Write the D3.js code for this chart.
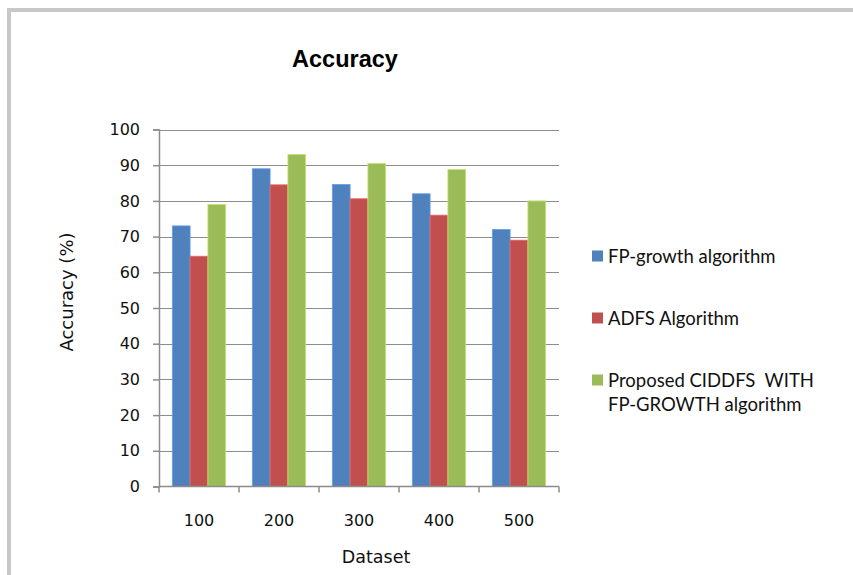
<!DOCTYPE html>
<html>
<head>
<meta charset="utf-8">
<script src="https://cdn.jsdelivr.net/npm/d3@7"></script>
<style>
  html, body { margin: 0; padding: 0; background: #fff; }
  svg { display: block; }
</style>
</head>
<body>
<svg id="chart" width="853" height="575"></svg>
<script>
// Dataset sizes on the x axis
const categories = ["100", "200", "300", "400", "500"];
// Series names, in legend order
const seriesNames = ["FP-growth algorithm", "ADFS Algorithm", "Proposed CIDDFS  WITH FP-GROWTH algorithm"];
// Accuracy (%) per dataset for each algorithm
const fpGrowth = [73, 89, 84.6, 82, 72];
const adfs = [64.5, 84.5, 80.6, 76, 69];
const proposed = [79, 93, 90.5, 88.8, 80];
// Y axis ticks
const yTicks = [0, 10, 20, 30, 40, 50, 60, 70, 80, 90, 100];

const colors = ["#4F81BD", "#C0504D", "#9BBB59"];
const seriesValues = [fpGrowth, adfs, proposed];

const svg = d3.select("#chart");

// outer frame
svg.append("rect")
  .attr("x", 9).attr("y", 10)
  .attr("width", 900).attr("height", 700)
  .attr("fill", "none")
  .attr("stroke", "#c8c8c8")
  .attr("stroke-width", 4);

const plotLeft = 159, plotRight = 559, plotTop = 129.5, plotBottom = 486.5;

const x0 = d3.scaleBand().domain(categories).range([plotLeft, plotRight]).padding(0);
const x1 = d3.scaleBand().domain(d3.range(3))
  .range([x0.bandwidth() / 6, x0.bandwidth() * 5 / 6]).padding(0);
const y = d3.scaleLinear().domain([0, 100]).range([plotBottom, plotTop]);

// gridlines
svg.append("g")
  .selectAll("line")
  .data(yTicks.filter(d => d > 0))
  .join("line")
  .attr("x1", plotLeft).attr("x2", plotRight)
  .attr("y1", d => Math.round(y(d)) + 0.5).attr("y2", d => Math.round(y(d)) + 0.5)
  .attr("stroke", "#8c8c8c").attr("stroke-width", 1.2);

// bars
const groups = svg.append("g")
  .selectAll("g")
  .data(categories)
  .join("g")
  .attr("transform", d => `translate(${x0(d)},0)`);

groups.selectAll("rect")
  .data((d, i) => seriesValues.map((vals, s) => ({ s, v: vals[i] })))
  .join("rect")
  .attr("x", d => x1(d.s))
  .attr("width", x1.bandwidth())
  .attr("y", d => y(d.v))
  .attr("height", d => plotBottom - y(d.v))
  .attr("fill", d => colors[d.s])
  .attr("stroke", d => d3.color(colors[d.s]).brighter(0.6))
  .attr("stroke-width", 0.8);

const labelFont = "DejaVu Sans, Verdana, sans-serif";

// y axis
const yAxis = d3.axisLeft(y).tickValues(yTicks).tickSize(6).tickPadding(13);
const gy = svg.append("g").attr("transform", `translate(${plotLeft},0)`).call(yAxis);
gy.select(".domain").attr("stroke", "#8c8c8c").attr("stroke-width", 1.5);
gy.selectAll(".tick line").attr("stroke", "#8c8c8c").attr("stroke-width", 1.5);
gy.selectAll(".tick text")
  .attr("font-family", labelFont)
  .attr("font-size", 16)
  .attr("fill", "#111");

// x axis: ticks at band boundaries
const xAxisG = svg.append("g");
xAxisG.append("line")
  .attr("x1", plotLeft).attr("x2", plotRight)
  .attr("y1", plotBottom).attr("y2", plotBottom)
  .attr("stroke", "#8c8c8c").attr("stroke-width", 1.5);
xAxisG.selectAll(".xt")
  .data(categories.concat([null]))
  .join("line")
  .attr("class", "xt")
  .attr("x1", (d, i) => plotLeft + i * x0.step())
  .attr("x2", (d, i) => plotLeft + i * x0.step())
  .attr("y1", plotBottom).attr("y2", plotBottom + 6)
  .attr("stroke", "#8c8c8c").attr("stroke-width", 1.5);
xAxisG.selectAll(".xl")
  .data(categories)
  .join("text")
  .attr("class", "xl")
  .attr("x", d => x0(d) + x0.bandwidth() / 2)
  .attr("y", 526)
  .attr("text-anchor", "middle")
  .attr("font-family", labelFont)
  .attr("font-size", 16)
  .attr("fill", "#111")
  .text(d => d);

// titles
svg.append("text")
  .attr("x", 345).attr("y", 67)
  .attr("text-anchor", "middle")
  .attr("font-family", "Liberation Sans, Arial, sans-serif")
  .attr("font-weight", "bold")
  .attr("font-size", 23.5)
  .attr("fill", "#000")
  .text("Accuracy");

svg.append("text")
  .attr("x", 376).attr("y", 563)
  .attr("text-anchor", "middle")
  .attr("font-family", labelFont)
  .attr("font-size", 17.5)
  .attr("fill", "#111")
  .text("Dataset");

svg.append("text")
  .attr("transform", "translate(73,292) rotate(-90)")
  .attr("text-anchor", "middle")
  .attr("font-family", labelFont)
  .attr("font-size", 18)
  .attr("fill", "#111")
  .text("Accuracy (%)");

// legend
const legendY = [256, 318, 380];
const legend = svg.append("g");
seriesNames.forEach((name, i) => {
  legend.append("rect")
    .attr("x", 592).attr("y", legendY[i] - 5.5)
    .attr("width", 11).attr("height", 11)
    .attr("fill", colors[i]);
  const lines = i === 2 ? ["Proposed CIDDFS  WITH", "FP-GROWTH algorithm"] : [name];
  const t = legend.append("text")
    .attr("font-family", "Lato, Open Sans, sans-serif")
    .attr("font-size", 18.5)
    .attr("fill", "#111")
    .attr("xml:space", "preserve");
  lines.forEach((ln, j) => {
    t.append("tspan")
      .attr("x", 608)
      .attr("y", legendY[i] + 6.5 + j * 24)
      .text(ln);
  });
});
</script>
</body>
</html>
